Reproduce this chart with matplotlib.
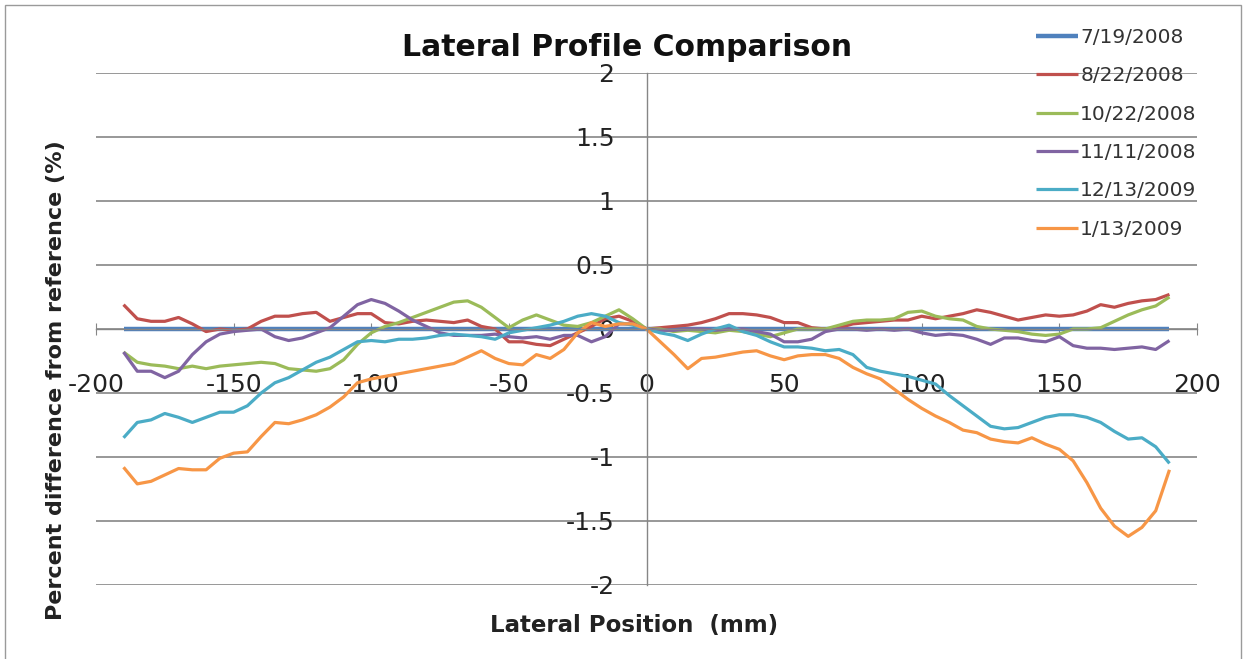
import numpy as np
import matplotlib
matplotlib.use("Agg")
import matplotlib.pyplot as plt
from matplotlib.patches import Rectangle

plt.rcParams["font.family"] = ["DejaVu Sans"]
plt.rcParams["axes.unicode_minus"] = False

# Lateral positions (mm), sampled every 5 mm
positions = np.arange(-190, 191, 5)

series_labels = ["7/19/2008", "8/22/2008", "10/22/2008",
                 "11/11/2008", "12/13/2009", "1/13/2009"]
series_colors = ["#4F81BD", "#C0504D", "#9BBB59",
                 "#8064A2", "#4BACC6", "#F79646"]
series_widths = [3.2, 2.3, 2.3, 2.3, 2.3, 2.3]

# Reference scan: zero difference everywhere
pd_0719 = [0.0] * len(positions)

pd_0822 = [0.19, 0.08, 0.06, 0.06, 0.09, 0.04, -0.02, 0.00, -0.01, 0.00, 0.06, 0.10, 0.10, 0.12, 0.13, 0.06, 0.09, 0.12, 0.12,
           0.05, 0.04, 0.06, 0.07, 0.06, 0.05, 0.07, 0.02, 0.00, -0.10, -0.10, -0.12, -0.13, -0.08, -0.03, 0.02, 0.08, 0.10, 0.06,
           0.00,
           0.01, 0.02, 0.03, 0.05, 0.08, 0.12, 0.12, 0.11, 0.09, 0.05, 0.05, 0.01, 0.00, 0.01, 0.04, 0.05, 0.06, 0.07, 0.07,
           0.10, 0.08, 0.10, 0.12, 0.15, 0.13, 0.10, 0.07, 0.09, 0.11, 0.10, 0.11, 0.14, 0.19, 0.17, 0.20, 0.22, 0.23, 0.27]

pd_1022 = [-0.18, -0.26, -0.28, -0.29, -0.31, -0.29, -0.31, -0.29, -0.28, -0.27, -0.26, -0.27, -0.31, -0.32, -0.33, -0.31, -0.24, -0.12, -0.03,
           0.02, 0.05, 0.09, 0.13, 0.17, 0.21, 0.22, 0.17, 0.09, 0.01, 0.07, 0.11, 0.07, 0.03, 0.02, 0.05, 0.10, 0.15, 0.08,
           0.00,
           0.00, -0.02, -0.01, -0.02, -0.03, -0.01, -0.02, -0.04, -0.06, -0.03, 0.00, 0.00, 0.00, 0.03, 0.06, 0.07, 0.07, 0.08, 0.13,
           0.14, 0.10, 0.08, 0.07, 0.02, 0.00, -0.01, -0.02, -0.04, -0.05, -0.04, 0.00, 0.00, 0.01, 0.06, 0.11, 0.15, 0.18, 0.25]

pd_1111 = [-0.18, -0.33, -0.33, -0.38, -0.33, -0.20, -0.10, -0.04, -0.02, -0.01, 0.00, -0.06, -0.09, -0.07, -0.03, 0.01, 0.10, 0.19, 0.23,
           0.20, 0.14, 0.07, 0.02, -0.03, -0.05, -0.05, -0.05, -0.04, -0.06, -0.07, -0.06, -0.08, -0.05, -0.05, -0.10, -0.06, 0.04, 0.04,
           0.00,
           -0.01, -0.01, 0.00, 0.00, -0.01, 0.00, 0.00, -0.02, -0.04, -0.10, -0.10, -0.08, -0.02, 0.00, 0.00, -0.01, 0.00, -0.01, 0.00,
           -0.03, -0.05, -0.04, -0.05, -0.08, -0.12, -0.07, -0.07, -0.09, -0.10, -0.06, -0.13, -0.15, -0.15, -0.16, -0.15, -0.14, -0.16, -0.09]

pd_1213 = [-0.85, -0.73, -0.71, -0.66, -0.69, -0.73, -0.69, -0.65, -0.65, -0.60, -0.50, -0.42, -0.38, -0.32, -0.26, -0.22, -0.16, -0.10, -0.09,
           -0.10, -0.08, -0.08, -0.07, -0.05, -0.04, -0.05, -0.06, -0.08, -0.03, -0.01, 0.01, 0.03, 0.06, 0.10, 0.12, 0.10, 0.05, 0.03,
           0.00,
           -0.03, -0.05, -0.09, -0.04, 0.00, 0.03, -0.02, -0.05, -0.10, -0.14, -0.14, -0.15, -0.17, -0.16, -0.20, -0.30, -0.33, -0.35, -0.37,
           -0.40, -0.43, -0.52, -0.60, -0.68, -0.76, -0.78, -0.77, -0.73, -0.69, -0.67, -0.67, -0.69, -0.73, -0.80, -0.86, -0.85, -0.92, -1.05]

pd_0113 = [-1.08, -1.21, -1.19, -1.14, -1.09, -1.10, -1.10, -1.01, -0.97, -0.96, -0.84, -0.73, -0.74, -0.71, -0.67, -0.61, -0.53, -0.42, -0.39,
           -0.37, -0.35, -0.33, -0.31, -0.29, -0.27, -0.22, -0.17, -0.23, -0.27, -0.28, -0.20, -0.23, -0.16, -0.03, 0.05, 0.02, 0.04, 0.04,
           0.00,
           -0.10, -0.20, -0.31, -0.23, -0.22, -0.20, -0.18, -0.17, -0.21, -0.24, -0.21, -0.20, -0.20, -0.23, -0.30, -0.35, -0.39, -0.47, -0.55,
           -0.62, -0.68, -0.73, -0.79, -0.81, -0.86, -0.88, -0.89, -0.85, -0.90, -0.94, -1.03, -1.20, -1.40, -1.54, -1.62, -1.55, -1.42, -1.10]

series_values = [pd_0719, pd_0822, pd_1022, pd_1111, pd_1213, pd_0113]

x_ticks = [-200, -150, -100, -50, 0, 50, 100, 150, 200]
x_tick_labels = ["-200", "-150", "-100", "-50", "0", "50", "100", "150", "200"]
y_ticks = [-2, -1.5, -1, -0.5, 0, 0.5, 1, 1.5, 2]
y_tick_labels = ["-2", "-1.5", "-1", "-0.5", "0", "0.5", "1", "1.5", "2"]

W, H = 1247, 659
fig = plt.figure(figsize=(W / 100, H / 100), dpi=100)
ax = fig.add_axes([96 / W, 1 - 585 / H, 1101 / W, 512 / H])

grid_color = "#868686"
text_color = "#222222"
ax.set_xlim(-200, 200)
ax.set_ylim(-2, 2)
ax.set_yticks(y_ticks)
ax.set_yticklabels(y_tick_labels)
ax.set_xticks(x_ticks)
ax.set_xticklabels(x_tick_labels)
ax.yaxis.grid(True, color=grid_color, linewidth=1.2)
ax.set_axisbelow(True)

for side in ("top", "right"):
    ax.spines[side].set_visible(False)
ax.spines["left"].set_position(("data", 0))
ax.spines["bottom"].set_position(("data", 0))
for side in ("left", "bottom"):
    ax.spines[side].set_color(grid_color)
    ax.spines[side].set_linewidth(1.0)

ax.tick_params(axis="x", direction="inout", length=8, color=grid_color,
               pad=28, labelsize=18, labelcolor=text_color)
ax.tick_params(axis="y", length=0, pad=23, labelsize=18, labelcolor=text_color)

lines = []
for vals, lab, col, lw in zip(series_values, series_labels, series_colors,
                              series_widths):
    ln, = ax.plot(positions, vals, color=col, linewidth=lw, label=lab,
                  solid_joinstyle="round", solid_capstyle="butt")
    lines.append(ln)

ax.set_xlabel("Lateral Position  (mm)", fontsize=16.5, fontweight="bold",
              color=text_color)
ax.xaxis.set_label_coords((634 - 96) / 1101, (585 - 614) / 512)
ax.set_ylabel("Percent difference from reference (%)", fontsize=16,
              fontweight="bold", color=text_color)
ax.yaxis.set_label_coords((66 - 96) / 1101, (585 - 380) / 512)

fig.text(627 / W, 1 - 47 / H, "Lateral Profile Comparison", ha="center",
         va="center", fontsize=21.5, fontweight="bold", color="#111111")

leg = fig.legend(handles=lines, loc="upper left",
                 bbox_to_anchor=(1036 / W, 1 - 28 / H),
                 frameon=False, fontsize=14.5, handlelength=2.1,
                 handletextpad=0.1, labelspacing=0.96, borderpad=0,
                 borderaxespad=0)
for t in leg.get_texts():
    t.set_color("#333333")

fig.add_artist(Rectangle((5 / W, -0.01), 1236 / W, 1 - 5 / H + 0.01,
                         transform=fig.transFigure, fill=False,
                         edgecolor="#9a9a9a", linewidth=1.0))

fig.savefig("out.png", dpi=100)
